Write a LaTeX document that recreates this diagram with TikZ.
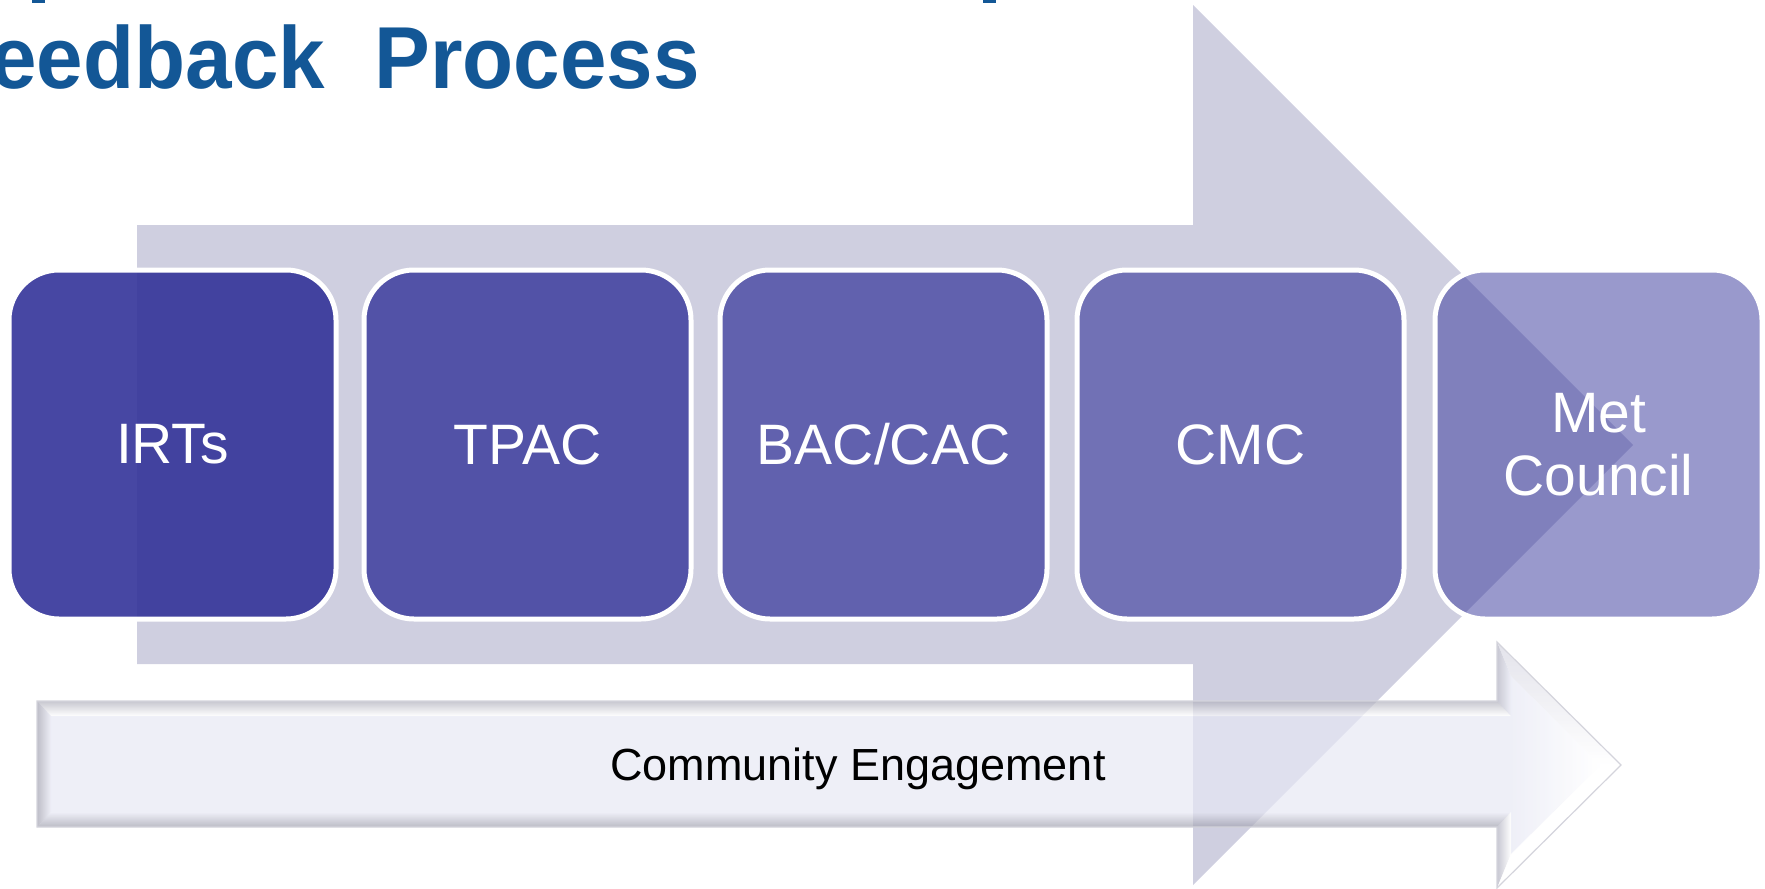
\documentclass[tikz,border=0pt]{standalone}
\usepackage{fontspec}
\setmainfont{Liberation Sans}
\definecolor{bigarrow}{RGB}{207,207,224}
\definecolor{boxbase}{RGB}{51,51,153}
\definecolor{titleblue}{RGB}{19,87,150}
\definecolor{cefill}{RGB}{231,232,244}
\definecolor{cegraytop}{RGB}{176,176,188}
\definecolor{cegraybot}{RGB}{159,159,173}
\definecolor{cegrayleft}{RGB}{162,162,176}
\definecolor{cegrayback}{RGB}{176,176,191}
\definecolor{cediag}{RGB}{215,215,226}
\definecolor{celine}{RGB}{212,212,220}
\begin{document}
\begin{tikzpicture}[x=1pt,y=-1pt,
  procbox/.style={draw=white, line width=5pt, fill=boxbase, rounded corners=50pt,
    minimum width=327pt, minimum height=349pt, inner sep=0pt, text=white,
    text opacity=1, font=\fontsize{57}{63}\selectfont, align=center},
  facet/.style={fill opacity=0.7, draw=none},
  bigarrowstyle/.style={fill=bigarrow, draw=none}]
\useasboundingbox (0,0) rectangle (1765,889);

% fragments of cut-off line above
\fill[titleblue] (32,0) rectangle (45,3);
\fill[titleblue] (983,0) rectangle (996,3);

% title
\node[anchor=base east, inner sep=0pt, text=titleblue,
  font=\fontsize{88}{92}\selectfont\bfseries] (title) at (700,88) {\scalebox{0.95}[1]{eedback\hspace{52pt}Process}};

% big background arrow
\fill[bigarrowstyle] (137,225) -- (1193,225) -- (1193,5) -- (1633,445)
  -- (1193,885) -- (1193,664) -- (137,664) -- cycle;

% process boxes
\node[procbox, fill opacity=0.9] (irt) at (172.5,444.5) {IRTs};
\node[procbox, fill opacity=0.8] (tpac) at (527.5,444.5) {TPAC};
\node[procbox, fill opacity=0.7] (bac) at (883.5,444.5) {BAC/CAC};
\node[procbox, fill opacity=0.6] (cmc) at (1240.5,444.5) {CMC};
\node[procbox, fill opacity=0.5] (met) at (1598.5,444.5) {Met\\Council};

% community engagement arrow (bevelled)
\coordinate (A) at (37,701);
\coordinate (B) at (1497,701);
\coordinate (C) at (1497,642);
\coordinate (D) at (1621,765);
\coordinate (E) at (1497,888);
\coordinate (F) at (1497,827);
\coordinate (G) at (37,827);
\coordinate (A1) at (51,716);
\coordinate (B1) at (1511,716);
\coordinate (C1) at (1511,676);
\coordinate (D1) at (1601,765);
\coordinate (E1) at (1511,854);
\coordinate (F1) at (1511,812);
\coordinate (G1) at (51,812);

% inner face: shaft part and head part
\fill[facet, fill=cefill] (A1) -- (B1) -- (F1) -- (G1) -- cycle;
\shade[facet, left color=cefill, right color=white] (C1) -- (D1) -- (E1) -- cycle;
% top facet
\shade[facet, top color=cegraytop, bottom color=white] (A) -- (B) -- (B1) -- (A1) -- cycle;
% bottom facet
\shade[facet, top color=cefill, bottom color=cegraybot] (G1) -- (F1) -- (F) -- (G) -- cycle;
% left facet
\shade[facet, left color=cegrayleft, right color=cefill] (A) -- (A1) -- (G1) -- (G) -- cycle;
% head back edges
\shade[facet, left color=cegrayback, right color=cefill] (B) -- (C) -- (C1) -- (B1) -- cycle;
\shade[facet, left color=cegrayback, right color=white] (F) -- (F1) -- (E1) -- (E) -- cycle;
% head diagonals
\shade[facet, top color=cediag, bottom color=white] (C) -- (D) -- (D1) -- (C1) -- cycle;
\fill[facet, fill=white] (D) -- (E) -- (E1) -- (D1) -- cycle;
% outline
\draw[celine, line width=1.2pt, line join=miter] (A) -- (B) -- (C) -- (D) -- (E) -- (F) -- (G) -- cycle;

\node[anchor=base, inner sep=0pt, text=black, font=\fontsize{45}{54}\selectfont] (ce) at (858,780) {Community Engagement};
\end{tikzpicture}
\end{document}
